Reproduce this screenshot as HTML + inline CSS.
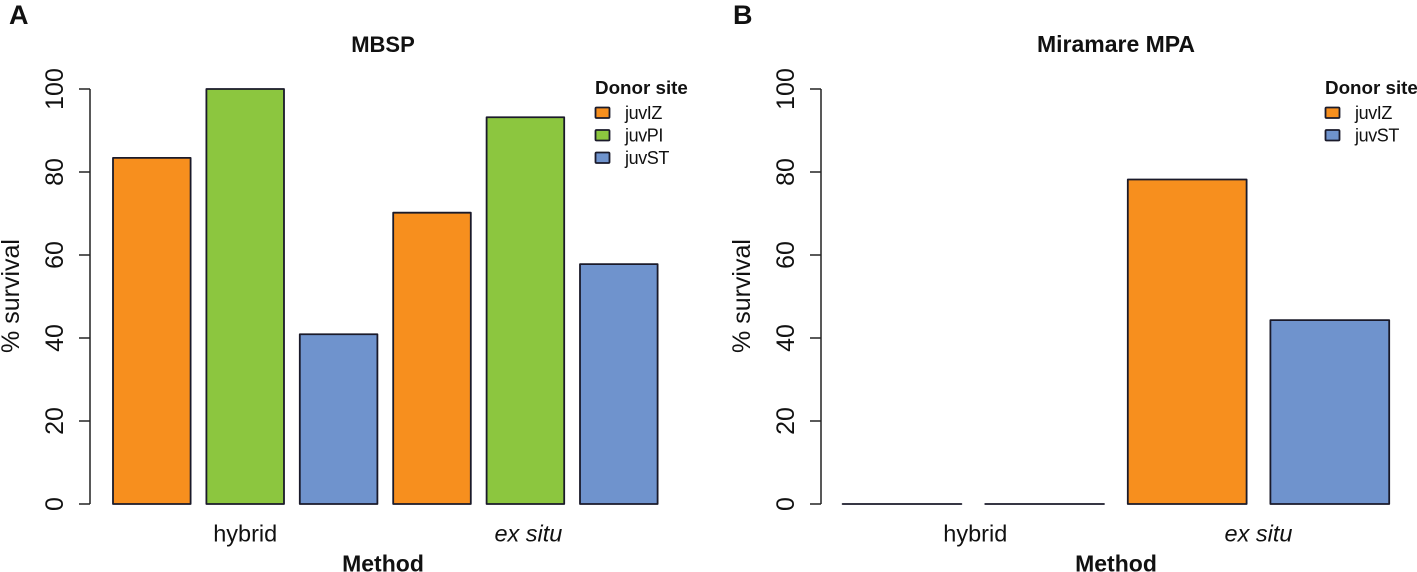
<!DOCTYPE html>
<html lang="en">
<head>
<meta charset="utf-8">
<title>% survival by method and donor site</title>
<style>
  html, body { margin: 0; padding: 0; background: #fff; }
  body { width: 1417px; height: 572px; overflow: hidden; }
  svg { display: block; font-family: "Liberation Sans", Arial, sans-serif; }
  text { fill: #111; }
</style>
</head>
<body>
<svg id="figure" xmlns="http://www.w3.org/2000/svg" width="1417" height="572" viewBox="0 0 1417 572"></svg>
<script>
const tickValues = [0, 20, 40, 60, 80, 100];
const methods = ['hybrid', 'ex situ'];

const mbspDonors = ['juvIZ', 'juvPI', 'juvST'];
const mbspHybrid = [83.4, 100, 40.9];
const mbspExSitu = [70.2, 93.2, 57.8];

const miramareDonors = ['juvIZ', 'juvST'];
const miramareHybrid = [0, 0];
const miramareExSitu = [78.2, 44.3];

const donorColors = { juvIZ: '#f78f1e', juvPI: '#8cc63f', juvST: '#6f93cd' };

const svg = document.getElementById('figure');
const NS = 'http://www.w3.org/2000/svg';
const INK = '#1a1a2a';

function make(tag, attrs, parent) {
  const el = document.createElementNS(NS, tag);
  for (const k in attrs) el.setAttribute(k, attrs[k]);
  parent.appendChild(el);
  return el;
}

function label(parent, str, x, y, size, opts) {
  const o = opts || {};
  const attrs = { x: x, y: y, 'font-size': size, 'text-anchor': o.anchor || 'middle' };
  if (o.bold) attrs['font-weight'] = 'bold';
  if (o.italic) attrs['font-style'] = 'italic';
  if (o.rotate) attrs.transform = 'rotate(-90 ' + x + ' ' + y + ')';
  const t = make('text', attrs, parent);
  t.textContent = str;
  return t;
}

const yScale = v => 504 - v * 4.15;

function drawPanel(cfg) {
  const g = make('g', {}, svg);
  
  

  const letter = label(g, cfg.letter, cfg.letterX, 24, 27, { bold: true, anchor: 'start' });
  
  

  const title = label(g, cfg.title, cfg.center, 52, cfg.titleSize, { bold: true });
  
  

  const axis = make('g', { stroke: '#222', 'stroke-width': 1.5, fill: 'none' }, g);
  
  
  make('line', { x1: cfg.axisX, x2: cfg.axisX, y1: yScale(0), y2: yScale(100) }, axis);

  tickValues.forEach(v => {
    const tick = make('line', { x1: cfg.axisX - 11, x2: cfg.axisX, y1: yScale(v), y2: yScale(v) }, axis);
    
    
    const tl = label(g, String(v), cfg.axisX - 27, yScale(v), 25, { rotate: true });
    
    
  });

  const yTitle = label(g, '% survival', cfg.axisX - 71, 296, 25, { rotate: true });
  
  

  const values = cfg.hybrid.concat(cfg.exSitu);
  const names = cfg.donors.concat(cfg.donors);
  const bandX = i => cfg.barStart + i * cfg.barStep;
  values.forEach((v, i) => {
    const x0 = bandX(i);
    const x1 = x0 + cfg.barWidth;
    const bar = make('path', {
      d: 'M' + x0 + ' ' + yScale(0) + 'V' + yScale(v) + 'H' + x1 + 'V' + yScale(0) + 'Z',
      fill: donorColors[names[i]],
      stroke: INK,
      'stroke-width': 1.8,
      'stroke-linejoin': 'round'
    }, g);
    
    
  });

  const perGroup = cfg.donors.length;
  methods.forEach((m, mi) => {
    const first = bandX(mi * perGroup);
    const last = bandX(mi * perGroup + perGroup - 1) + cfg.barWidth;
    const t = label(g, m, (first + last) / 2 + cfg.labelNudge[mi], 541.5, 23.5, { italic: mi === 1 });
    
    
  });

  const xTitle = label(g, 'Method', cfg.center, 571.5, 23, { bold: true });
  
  

  const legend = make('g', {}, g);
  
  
  const lt = label(legend, 'Donor site', cfg.legendX, 94, 18.8, { bold: true, anchor: 'start' });
  
  
  cfg.donors.forEach((d, i) => {
    const swatch = make('rect', {
      x: cfg.legendX + 0.5,
      y: 107.5 + i * 22.5,
      width: 14,
      height: 10.5,
      rx: 1,
      fill: donorColors[d],
      stroke: INK,
      'stroke-width': 1.8
    }, legend);
    
    
    const txt = label(legend, d, cfg.legendX + 30, 119 + i * 22.5, 18, { anchor: 'start' });
    txt.setAttribute('letter-spacing', '-0.4');
    
    
  });
}

drawPanel({
  slug: 'mbsp', letter: 'A', letterX: 9, title: 'MBSP', titleSize: 22, center: 383,
  axisX: 90, barStart: 113, barStep: 93.4, barWidth: 77.6, labelNudge: [0, 3],
  donors: mbspDonors, hybrid: mbspHybrid, exSitu: mbspExSitu, legendX: 595
});

drawPanel({
  slug: 'miramare', letter: 'B', letterX: 733, title: 'Miramare MPA', titleSize: 23, center: 1116,
  axisX: 821, barStart: 842.6, barStep: 142.6, barWidth: 118.8, labelNudge: [2, 0],
  donors: miramareDonors, hybrid: miramareHybrid, exSitu: miramareExSitu, legendX: 1325
});
</script>
</body>
</html>
